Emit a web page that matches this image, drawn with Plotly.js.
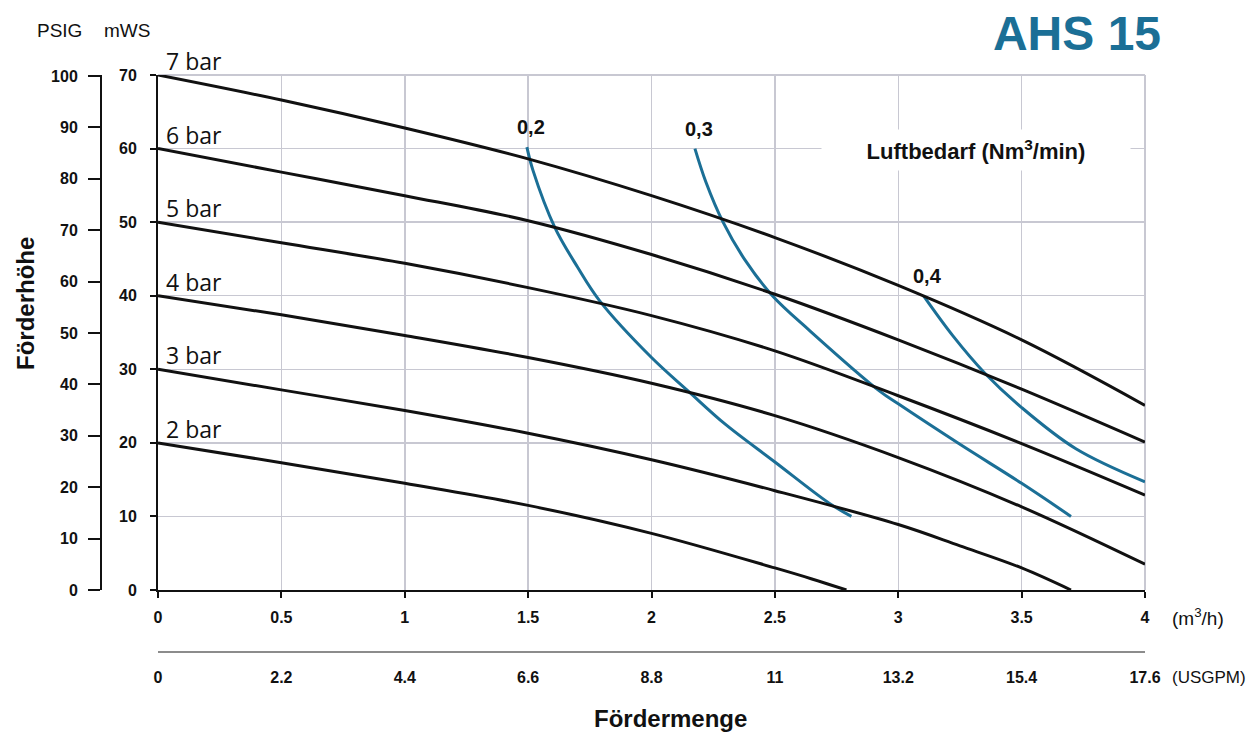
<!DOCTYPE html>
<html>
<head>
<meta charset="utf-8">
<script src="https://cdn.plot.ly/plotly-3.0.1.min.js"></script>
<style>html,body{margin:0;padding:0;background:#fff;}#chart{width:1257px;height:735px;}</style>
</head>
<body>
<div id="chart"></div>
<script>
// ---- data (flow m3/h vs head mWS) ----
const barLabels = ['7 bar', '6 bar', '5 bar', '4 bar', '3 bar', '2 bar'];
const bar7X = [0, 0.5, 1, 1.5, 2, 2.5, 3, 3.5, 4];
const bar7Y = [70, 66.6, 62.8, 58.6, 53.6, 47.9, 41.4, 34.0, 25.1];
const bar6X = [0, 0.5, 1, 1.5, 2, 2.5, 3, 3.5, 4];
const bar6Y = [60, 56.8, 53.6, 50.2, 45.6, 40.2, 34.0, 27.3, 20.1];
const bar5X = [0, 0.5, 1, 1.5, 2, 2.5, 3, 3.5, 4];
const bar5Y = [50, 47.2, 44.4, 41.1, 37.3, 32.5, 26.4, 19.9, 12.9];
const bar4X = [0, 0.5, 1, 1.5, 2, 2.5, 3, 3.5, 4];
const bar4Y = [40, 37.4, 34.6, 31.6, 28.1, 23.7, 18.0, 11.3, 3.5];
const bar3X = [0, 0.5, 1, 1.5, 2, 2.5, 3, 3.25, 3.5, 3.7];
const bar3Y = [30, 27.2, 24.4, 21.3, 17.7, 13.5, 8.9, 6.0, 3.0, 0];
const bar2X = [0, 0.5, 1, 1.5, 2, 2.5, 2.65, 2.79];
const bar2Y = [20, 17.3, 14.5, 11.5, 7.7, 3.0, 1.5, 0];

const airLabels = ['0,2', '0,3', '0,4'];
const air02X = [1.495, 1.52, 1.608, 1.7, 1.79, 2.0, 2.15, 2.3, 2.5, 2.72, 2.81];
const air02Y = [60.2, 57, 49.3, 43.9, 39.3, 31.6, 27.0, 22.5, 17.4, 11.8, 10];
const air03X = [2.176, 2.22, 2.29, 2.38, 2.49, 2.643, 2.926, 3.0, 3.25, 3.5, 3.70];
const air03Y = [60, 55.5, 50, 44.8, 40, 35.2, 27.0, 25.3, 19.8, 14.5, 10];
const air04X = [3.102, 3.22, 3.35, 3.5, 3.72, 4.0];
const air04Y = [40, 34.6, 29.5, 24.8, 19.2, 14.7];

const flowTicks = [0, 0.5, 1, 1.5, 2, 2.5, 3, 3.5, 4];
const flowTickText = ['0', '0.5', '1', '1.5', '2', '2.5', '3', '3.5', '4'];
const gpmTicks = [0, 2.2, 4.4, 6.6, 8.8, 11, 13.2, 15.4, 17.6];
const gpmTickText = ['0', '2.2', '4.4', '6.6', '8.8', '11', '13.2', '15.4', '17.6'];
const mwsTicks = [0, 10, 20, 30, 40, 50, 60, 70];
const psiTicks = [0, 10, 20, 30, 40, 50, 60, 70, 80, 90, 100];

const titleText = 'AHS 15';
const airTitle = 'Luftbedarf (Nm<sup>3</sup>/min)';

// ---- styling ----
const BLUE = '#1b6f96';
const GRID = '#c8c8d2';
const SANS = '"Liberation Sans", Arial, sans-serif';
const tickFont = {family: SANS, size: 16, color: '#111', weight: 'bold'};

const L = 10, R = 112, T = 75, B = 20, W = 1257, H = 735;
const PW = W - L - R, PH = H - T - B;
const px2x = p => (p - L) / PW;
const py2y = p => (H - B - p) / PH;

const barSets = [[bar7X, bar7Y], [bar6X, bar6Y], [bar5X, bar5Y], [bar4X, bar4Y], [bar3X, bar3Y], [bar2X, bar2Y]];
const airSets = [[air02X, air02Y], [air03X, air03Y], [air04X, air04Y]];

const traces = [];
airSets.forEach((s, i) => traces.push({
  x: s[0], y: s[1], type: 'scatter', mode: 'lines', name: airLabels[i],
  line: {color: BLUE, width: 3, shape: 'spline', smoothing: 1}, hoverinfo: 'x+y'
}));
barSets.forEach((s, i) => traces.push({
  x: s[0], y: s[1], type: 'scatter', mode: 'lines', name: barLabels[i],
  line: {color: '#111', width: 3, shape: 'spline', smoothing: 1}, hoverinfo: 'x+y'
}));

const annotations = [];
barSets.forEach((s, i) => annotations.push({
  x: 0, y: s[1][0], xref: 'x', yref: 'y', text: barLabels[i], showarrow: false,
  xanchor: 'left', yanchor: 'middle', xshift: 6, yshift: 14,
  font: {family: '"Open Sans", sans-serif', size: 23, color: '#111'}
}));
airSets.forEach((s, i) => annotations.push({
  x: s[0][0], y: s[1][0], xref: 'x', yref: 'y', text: airLabels[i], showarrow: false,
  xanchor: 'center', yanchor: 'middle', xshift: 4, yshift: 20,
  font: {family: SANS, size: 20, color: '#111', weight: 'bold'}
}));
annotations.push(
  {x: px2x(976), y: py2y(150), xref: 'paper', yref: 'paper', text: airTitle, showarrow: false,
   xanchor: 'center', yanchor: 'middle', bgcolor: '#fff', width: 306, height: 38, align: 'center',
   font: {family: SANS, size: 22, color: '#111', weight: 'bold'}},
  {x: px2x(59), y: py2y(30), xref: 'paper', yref: 'paper', text: 'PSIG', showarrow: false,
   xanchor: 'center', yanchor: 'middle', font: {family: SANS, size: 19, color: '#111'}},
  {x: px2x(127), y: py2y(30), xref: 'paper', yref: 'paper', text: 'mWS', showarrow: false,
   xanchor: 'center', yanchor: 'middle', font: {family: SANS, size: 19, color: '#111'}},
  {x: px2x(1170), y: py2y(617), xref: 'paper', yref: 'paper', text: '(m<sup>3</sup>/h)', showarrow: false,
   xanchor: 'left', yanchor: 'middle', font: {family: SANS, size: 19, color: '#111'}},
  {x: px2x(1170), y: py2y(677), xref: 'paper', yref: 'paper', text: '(USGPM)', showarrow: false,
   xanchor: 'left', yanchor: 'middle', font: {family: SANS, size: 17, color: '#111'}},
  {x: px2x(670), y: py2y(718), xref: 'paper', yref: 'paper', text: 'Fördermenge', showarrow: false,
   xanchor: 'center', yanchor: 'middle', font: {family: SANS, size: 24, color: '#111', weight: 'bold'}},
  {x: px2x(25), y: py2y(304), xref: 'paper', yref: 'paper', text: 'Förderhöhe', showarrow: false,
   textangle: -90, xanchor: 'center', yanchor: 'middle', font: {family: SANS, size: 24, color: '#111', weight: 'bold'}}
);

const xDomStart = px2x(158);
const yDomStart = py2y(590);

const layout = {
  width: W, height: H,
  margin: {l: L, r: R, t: T, b: B, pad: 0},
  paper_bgcolor: '#fff', plot_bgcolor: '#fff',
  showlegend: false,
  title: {text: titleText, xref: 'container', yref: 'container', x: 1077 / W, y: 1 - 33 / H,
          xanchor: 'center', yanchor: 'middle',
          font: {family: SANS, size: 48, color: BLUE, weight: 'bold'}},
  xaxis: {domain: [xDomStart, 1], range: [0, 4], tickvals: flowTicks, ticktext: flowTickText,
          showgrid: true, gridcolor: GRID, gridwidth: 1.5, zeroline: false,
          showline: true, linecolor: '#111', linewidth: 2, ticks: 'outside', ticklen: 6, tickwidth: 2, tickcolor: '#111',
          ticklabelstandoff: 6, tickfont: tickFont, anchor: 'y'},
  xaxis2: {overlaying: 'x', anchor: 'free', position: py2y(652), range: [0, 17.6],
           tickvals: gpmTicks, ticktext: gpmTickText, showgrid: false, zeroline: false,
           showline: true, linecolor: '#8c8c8c', linewidth: 2, ticks: '', ticklabelstandoff: 11, tickfont: tickFont, side: 'bottom'},
  yaxis: {domain: [yDomStart, 1], range: [0, 70], tickvals: mwsTicks,
          showgrid: true, gridcolor: GRID, gridwidth: 1.5, zeroline: false,
          showline: true, linecolor: '#111', linewidth: 2, ticks: 'outside', ticklen: 6, tickwidth: 2, tickcolor: '#111',
          ticklabelstandoff: 10, tickfont: tickFont, anchor: 'x'},
  yaxis3: {overlaying: 'y', anchor: 'free', position: px2x(101), side: 'left', range: [0, 100.2], tickvals: psiTicks,
           showgrid: false, zeroline: false, showline: true, linecolor: '#111', linewidth: 2,
           ticks: 'outside', ticklen: 12, tickwidth: 2, tickcolor: '#111', ticklabelstandoff: 7, tickfont: tickFont},
  shapes: [
    {type: 'line', xref: 'x domain', yref: 'y domain', x0: 0, x1: 1, y0: 1, y1: 1, line: {color: GRID, width: 2}, layer: 'below'},
    {type: 'line', xref: 'x domain', yref: 'y domain', x0: 1, x1: 1, y0: 0, y1: 1, line: {color: GRID, width: 2}, layer: 'below'}
  ],
  annotations: annotations
};

// invisible helper traces so the secondary axes are drawn
traces.push({x: [0], y: [0], xaxis: 'x2', yaxis: 'y', mode: 'markers', marker: {opacity: 0}, hoverinfo: 'skip', showlegend: false});
traces.push({x: [0], y: [0], xaxis: 'x', yaxis: 'y3', mode: 'markers', marker: {opacity: 0}, hoverinfo: 'skip', showlegend: false});

Plotly.newPlot('chart', traces, layout, {displayModeBar: false, staticPlot: true});
</script>
</body>
</html>
